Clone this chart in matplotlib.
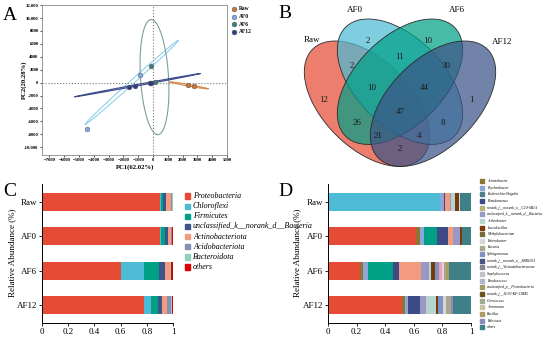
import numpy as np
import matplotlib
matplotlib.use('Agg')
import matplotlib.pyplot as plt
from matplotlib.patches import Ellipse, Rectangle
from matplotlib.lines import Line2D
from matplotlib.colors import to_rgba

plt.rcParams['font.family'] = ['Liberation Serif', 'DejaVu Serif']

W, H = 550, 338

# ---------------- data ----------------
groups = ['Raw', 'AF0', 'AF6', 'AF12']

# A: PCA scores
pc1 = {'Raw': [2365, 2770], 'AF0': [-850, -4460], 'AF6': [-155, 112],
       'AF12': [-1615, -1236, -220, -110]}
pc2 = {'Raw': [-300, -500], 'AF0': [1170, -7190], 'AF6': [2520, 150],
       'AF12': [-700, -500, -100, -100]}
# confidence ellipses: centre, major half-vector, minor half-vector
ell_center = {'Raw': (2425, -430), 'AF0': (-1450, 0), 'AF6': (100, 850), 'AF12': (-1050, -400)}
ell_major = {'Raw': (1295, -530), 'AF0': (3150, 6500), 'AF6': (-225, 8900), 'AF12': (4250, 1800)}
ell_minor = {'Raw': (10, 120), 'AF0': (91, -224), 'AF6': (950, 25), 'AF12': (-9, 106)}

# B: venn
venn_cx = [0.35, 0.5, 0.5, 0.65]
venn_cy = [0.47, 0.57, 0.57, 0.47]
venn_angle = [135, 135, 45, 45]
venn_counts = [12, 2, 2, 11, 10, 30, 10, 44, 1, 47, 26, 8, 21, 4, 2]
venn_pos = [(0.155, 0.487), (0.355, 0.755), (0.282, 0.641), (0.5, 0.682), (0.627, 0.755),
            (0.709, 0.641), (0.373, 0.541), (0.609, 0.541), (0.827, 0.487), (0.5, 0.432),
            (0.305, 0.382), (0.695, 0.382), (0.40, 0.323), (0.586, 0.323), (0.5, 0.264)]
venn_name_pos = [(0.10, 0.76), (0.295, 0.895), (0.76, 0.895), (0.965, 0.75)]

# C: phylum level
phyla = ['Proteobacteria', 'Chloroflexi', 'Firmicutes', 'unclassified_k__norank_d__Bacteria',
         'Actinobacteriota', 'Acidobacteriota', 'Bacteroidota', 'others']
phy_raw = [0.90, 0.005, 0.02, 0.025, 0.035, 0.008, 0.004, 0.003]
phy_af0 = [0.90, 0.005, 0.035, 0.025, 0.018, 0.008, 0.002, 0.007]
phy_af6 = [0.60, 0.18, 0.11, 0.05, 0.035, 0.005, 0.005, 0.015]
phy_af12 = [0.775, 0.055, 0.055, 0.03, 0.04, 0.03, 0.01, 0.005]

# D: genus level (top_* are genera whose legend entries are cut off)
genera = ['top_a', 'top_b', 'Acinetobacter', 'Psychrobacter', 'top_c', 'Pseudomonas', 'top_d',
          'unclassified_k__norank_d__Bacteria', 'Arthrobacter', 'Lactobacillus', 'Sphingomonas',
          'top_e', 'Enterobacter', 'Kocuria', 'Bacillus', 'Ralstonia', 'others']
gen_raw = [0, 0.78, 0, 0.028, 0, 0.012, 0.033, 0.01, 0.023, 0.03, 0, 0, 0.006, 0, 0, 0, 0.078]
gen_af0 = [0.613, 0, 0.03, 0.028, 0.089, 0.08, 0.035, 0.045, 0, 0.019, 0, 0, 0, 0, 0, 0, 0.061]
gen_af6 = [0.224, 0, 0.023, 0.03, 0.18, 0.04, 0.15, 0.058, 0.012, 0.028, 0.03, 0.023, 0.016,
           0.014, 0.016, 0, 0.156]
gen_af12 = [0.515, 0, 0.023, 0.023, 0, 0.08, 0, 0.047, 0.07, 0.012, 0.035, 0, 0.023, 0.035,
            0, 0.012, 0.125]
legend_genera = ['Acinetobacter', 'Psychrobacter', 'Escherichia-Shigella', 'Pseudomonas',
                 'norank_f__norank_o__C10-SB1A', 'unclassified_k__norank_d__Bacteria',
                 'Arthrobacter', 'Lactobacillus', 'Methylobacterium', 'Enterobacter', 'Kocuria',
                 'Sphingomonas', 'norank_f__norank_o__SBR1031', 'norank_f__Vicinamibacteraceae',
                 'Staphylococcus', 'Rhodococcus', 'unclassified_p__Proteobacteria',
                 'norank_f__JG30-KF-CM45', 'Citrococcus', 'Aeromonas', 'Bacillus', 'Ralstonia',
                 'others']

# ---------------- colours ----------------
pt_col = {'Raw': '#C4763C', 'AF0': '#7FA9E6', 'AF6': '#3D7F7B', 'AF12': '#2E3C82'}
ell_col = {'Raw': '#D98B4E', 'AF0': '#8FD0EA', 'AF6': '#7D9F99', 'AF12': '#3E4C8C'}
venn_col = ['#E64B35', '#4DBBD5', '#00A087', '#3C5488']
phy_col = ['#E64B35', '#4DBBD5', '#00A087', '#3C5488', '#F39B7F', '#8491B4', '#91D1C2', '#DC0000']
gen_col = {'top_a': '#E64B35', 'top_b': '#4DBBD5', 'top_c': '#00A087', 'top_d': '#F39B7F',
           'top_e': '#F2A0B8',
           'Acinetobacter': '#8C7535', 'Psychrobacter': '#8FA5D8', 'Escherichia-Shigella': '#4F7F8C',
           'Pseudomonas': '#3C4A85', 'norank_f__norank_o__C10-SB1A': '#B7B27C',
           'unclassified_k__norank_d__Bacteria': '#9C98C6', 'Arthrobacter': '#B5D6CE',
           'Lactobacillus': '#7A3A0C', 'Methylobacterium': '#7A6B3B', 'Enterobacter': '#DAD5DA',
           'Kocuria': '#A9A98A', 'Sphingomonas': '#7E93C2', 'norank_f__norank_o__SBR1031': '#485483',
           'norank_f__Vicinamibacteraceae': '#85858F', 'Staphylococcus': '#C4C0C4',
           'Rhodococcus': '#B3B3D3', 'unclassified_p__Proteobacteria': '#A39D62',
           'norank_f__JG30-KF-CM45': '#6B5622', 'Citrococcus': '#A3AB93', 'Aeromonas': '#CBC3A3',
           'Bacillus': '#AB9B63', 'Ralstonia': '#8A8AC2', 'others': '#3F8088'}

fig = plt.figure(figsize=(W / 100, H / 100), dpi=100)


def box(l, t, r, b):
    return fig.add_axes([l / W, 1 - b / H, (r - l) / W, (b - t) / H])


def fx(px):
    return px / W


def fy(py):
    return 1 - py / H


# ---------------- A ----------------
ax = box(42, 5, 227, 155)
ax.set_xlim(-7500, 5000)
ax.set_ylim(-11200, 12000)
ax.axhline(0, color='#777777', ls=':', lw=0.8)
ax.axvline(0, color='#777777', ls=':', lw=0.8)
t = np.linspace(0, 2 * np.pi, 300)
for g in groups:
    cx, cy = ell_center[g]
    ux, uy = ell_major[g]
    vx, vy = ell_minor[g]
    ax.plot(cx + ux * np.cos(t) + vx * np.sin(t), cy + uy * np.cos(t) + vy * np.sin(t),
            color=ell_col[g], lw=0.8)
for g in groups:
    ax.scatter(pc1[g], pc2[g], s=12, color=pt_col[g], edgecolor='#555555', lw=0.3, zorder=3)
xt = list(range(-7000, 5001, 1000))
yt = list(range(-10000, 12001, 2000))
ax.set_xticks(xt)
ax.set_yticks(yt)
ax.set_yticklabels([f'{v:,}' if abs(v) >= 10000 else str(v) for v in yt])
ax.tick_params(labelsize=3.4, length=1.5, width=0.5, pad=1)
for lab in ax.get_xticklabels() + ax.get_yticklabels():
    lab.set_fontweight('bold')
for s in ax.spines.values():
    s.set_color('#888888')
    s.set_linewidth(0.6)
fig.text(fx(135), fy(167), 'PC1(62.02%)', fontsize=4.8, fontweight='bold', ha='center', va='center')
fig.text(fx(24), fy(80), 'PC2(20.28%)', fontsize=4.8, fontweight='bold', ha='center', va='center',
         rotation=90)
for i, g in enumerate(groups):
    yy = 9 + i * 7.5
    fig.add_artist(Line2D([fx(234)], [fy(yy)], marker='o', ms=3.5, color=pt_col[g],
                          mec='#555555', mew=0.3, ls=''))
    fig.text(fx(239), fy(yy), g, fontsize=4, fontweight='bold', va='center')
fig.text(fx(10), fy(16), 'A', fontsize=14, ha='center', va='center')

# ---------------- B ----------------
axb = box(290, 9.1, 510, 180.7)
axb.set_xlim(0, 1)
axb.set_ylim(0.12, 0.9)
axb.axis('off')
for i in range(4):
    axb.add_patch(Ellipse((venn_cx[i], venn_cy[i]), 0.7, 0.4, angle=venn_angle[i],
                          fc=to_rgba(venn_col[i], 0.72), ec='#2A2A2A', lw=0.6))
for n, (x, y) in zip(venn_counts, venn_pos):
    axb.text(x, y, str(n), fontsize=6.5, ha='center', va='center', color='#1A1A1A')
for g, (x, y) in zip(groups, venn_name_pos):
    axb.text(x, y, g, fontsize=6.5, ha='center', va='center')
fig.text(fx(285), fy(13), 'B', fontsize=14, ha='center', va='center')


# ---------------- C / D ----------------
def stacked(axs, rows, names, colors):
    data = np.array(rows)
    ypos = np.arange(len(groups))
    left = np.zeros(len(groups))
    for j, name in enumerate(names):
        axs.barh(ypos, data[:, j], left=left, height=0.53, color=colors[j], lw=0)
        left += data[:, j]
    axs.set_ylim(3.52, -0.52)
    axs.set_xlim(0, 1)
    axs.set_yticks(ypos)
    axs.set_yticklabels(groups)
    axs.set_xticks([0, 0.2, 0.4, 0.6, 0.8, 1])
    axs.set_xticklabels(['0', '0.2', '0.4', '0.6', '0.8', '1'])
    axs.tick_params(labelsize=6.5, length=2, width=0.6, pad=1.5)
    axs.spines['top'].set_visible(False)
    axs.spines['right'].set_visible(False)
    for s in ('left', 'bottom'):
        axs.spines[s].set_linewidth(0.7)


axc = box(42, 184, 173, 323)
stacked(axc, [phy_raw, phy_af0, phy_af6, phy_af12], phyla, phy_col)
fig.text(fx(12), fy(253), 'Relative Abundance (%)', fontsize=6.5, rotation=90,
         ha='center', va='center')
for i, name in enumerate(phyla):
    yy = 196 + i * 10.15
    fig.add_artist(Rectangle((fx(185), fy(yy + 2.6)), 5.2 / W, 5.2 / H, color=phy_col[i]))
    fig.text(fx(193), fy(yy), name, fontsize=5.8, style='italic', va='center')
fig.text(fx(10), fy(192), 'C', fontsize=14, ha='center', va='center')

axd = box(328, 184, 471, 323)
stacked(axd, [gen_raw, gen_af0, gen_af6, gen_af12], genera, [gen_col[g] for g in genera])
fig.text(fx(297), fy(253), 'Relative Abundance (%)', fontsize=6.5, rotation=90,
         ha='center', va='center')
for i, name in enumerate(legend_genera):
    yy = 181 + i * 6.65
    fig.add_artist(Rectangle((fx(480), fy(yy + 2)), 4.2 / W, 4 / H, color=gen_col[name]))
    fig.text(fx(487), fy(yy), name, fontsize=2.7, style='italic', va='center')
fig.text(fx(285), fy(192), 'D', fontsize=14, ha='center', va='center')

fig.savefig('out.png', dpi=100, facecolor='white')
